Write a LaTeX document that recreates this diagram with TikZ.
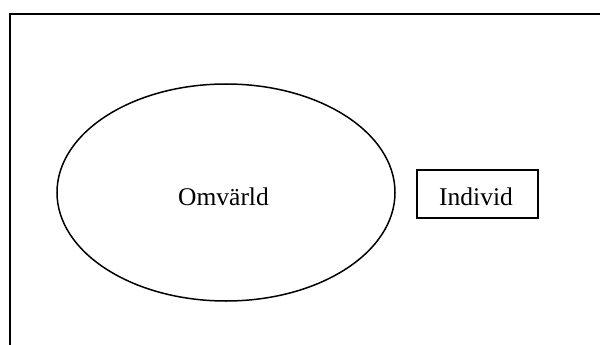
\documentclass[tikz,border=0pt]{standalone}
\usepackage{fontspec}
\setmainfont{Liberation Serif}
\usetikzlibrary{shapes.geometric}
\begin{document}
\begin{tikzpicture}[x=1pt,y=-1pt,
  frame/.style={line width=2pt},
  bigoval/.style={ellipse,draw,line width=1.5pt,minimum width=338pt,minimum height=217pt,inner sep=0pt},
  boxnode/.style={rectangle,draw,line width=1.4pt,minimum width=121pt,minimum height=48pt,inner sep=0pt},
  lbl/.style={anchor=base,inner sep=0pt,font=\fontsize{25.5pt}{30pt}\selectfont}]
\useasboundingbox (0,0) rectangle (600,345);
\coordinate (tl) at (10,14.5);
\coordinate (tr) at (601,14.5);
\coordinate (bl) at (10,346);
\draw[frame] (tr) -- (tl) -- (bl);
\node[bigoval] (omv) at (226,192.5) {};
\node[lbl] (omvt) at (223.5,205) {Omvärld};
\node[boxnode] (ind) at (477.5,194) {};
\node[lbl] (indt) at (476,205) {Individ};
\end{tikzpicture}
\end{document}
